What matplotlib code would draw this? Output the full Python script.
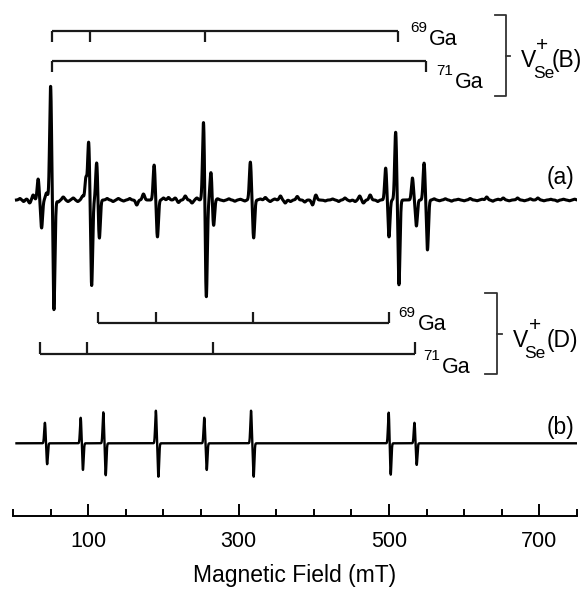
import numpy as np
import matplotlib
matplotlib.use("Agg")
import matplotlib.pyplot as plt

plt.rcParams["font.family"] = ["Liberation Sans", "DejaVu Sans"]

# ---------------- data (field in mT, amplitudes in arbitrary units) ----------------
major_ticks = [100, 300, 500, 700]
minor_ticks = [0, 50, 150, 200, 250, 350, 400, 450, 550, 600, 650, 750]
x_label = "Magnetic Field (mT)"

# (a) experimental spectrum: positive and negative lobes of each derivative line
a_up_field = [33.3, 49.9, 96.9, 100.5, 111.2, 187.6, 253.3, 263.2, 315.6, 495.6, 508.9, 531.2, 546.7]
a_up_amp = [21, 114, 22, 58, 38, 35, 79, 28, 38, 32, 68, 22, 37]
a_down_field = [37.9, 54.3, 104.5, 114.7, 192.0, 257.0, 266.7, 320.0, 500.0, 513.3, 536.5, 551.2]
a_down_amp = [28, 110, 86, 39, 37, 98, 26, 38, 37, 85, 26, 50]
# small noise features of (a)
a_noise_field = [9, 14, 18, 22, 26.7, 44.5, 60, 66.7, 73, 80, 86, 92.5, 125, 133, 140, 147,
                 155, 164.5, 173.4, 200, 206.7, 215.6, 220, 229, 238, 244.5, 272, 280, 287,
                 295, 302, 308, 329, 335.5, 342, 348, 355.6, 362, 369, 378, 388, 398.3, 402.7,
                 415, 425, 433, 441.4, 448, 455, 461, 466, 475, 485, 560, 567, 575, 583, 592,
                 600, 608, 617, 624, 630, 638, 645, 652, 660, 671, 680, 688, 698, 706, 715,
                 724, 732, 740, 747]
a_noise_amp = [1.5, -1.5, 1, -3, 5, 7, -2, 3, -1.5, 2, -1.5, 4, 1.5, -1.5, 1.5, -1,
               1.5, -5, 6, 2, 2.5, 2, -2.5, 4, -3, 2, 1.2, -0.8, 1.2,
               -1.2, 0.8, -1, 1, 2.5, -1.5, 1, 4, -3, -1.5, 3.5, -2, -5, 5,
               -1, 1, -1.5, 2, -1, -1.5, 4, -3, 5, -1.5, 1.2, -0.8, 1.2, -1.2, 0.8,
               -0.8, 1.5, -0.8, 0.8, 3, -1.2, 0.8, 2, -0.8, 2, -0.8, 1.2, 2, -0.8, 0.8,
               -1.2, 0.8, -0.8, 0.8]
a_range = [4.5, 752]

# (b) simulated spectrum
b_up_field = [42.3, 89.9, 120.0, 189.9, 254.3, 316.5, 499.6, 533.9]
b_up_amp = [20.6, 25.6, 31, 32.6, 25.6, 32.6, 31, 20.6]
b_down_field = [45.3, 92.9, 123.2, 193.3, 257.6, 320.0, 502.3, 536.9]
b_down_amp = [21, 26.7, 32, 33.4, 26.7, 33.4, 31.7, 21.7]
b_range = [4.5, 752]

# stick diagrams (line positions, mT)
B69_pos = [51.6, 102.3, 255.2, 511.6]
B71_pos = [51.6, 549.0]
D69_pos = [113.3, 190.3, 318.7, 500.0]
D71_pos = [35.6, 97.9, 265.3, 534.7]

# ---------------- layout (vertical positions in figure pixel rows) ----------------
W, H = 588, 589
fig = plt.figure(figsize=(W / 100, H / 100), dpi=100)
ax_bottom_px = 516
x0_px, x1_px = 13.1, 576.9
ax = fig.add_axes([x0_px / W, (H - ax_bottom_px) / H, (x1_px - x0_px) / W, ax_bottom_px / H])
ax.set_xlim(0, 750)
ax.set_ylim(ax_bottom_px, 0)


def lobes(grid, fields, amps, sigma):
    out = np.zeros_like(grid)
    for f, a in zip(fields, amps):
        out += a * np.exp(-0.5 * ((grid - f) / sigma) ** 2)
    return out


base_a, base_b = 200.0, 443.3
grid_a = np.arange(a_range[0], a_range[1], 0.05)
sig_a = (lobes(grid_a, a_up_field, a_up_amp, 1.3)
         - lobes(grid_a, a_down_field, a_down_amp, 1.3)
         + lobes(grid_a, a_noise_field, a_noise_amp, 1.5))
ax.plot(grid_a, base_a - sig_a, color="black", lw=2.2, solid_joinstyle="round")

grid_b = np.arange(b_range[0], b_range[1], 0.05)
sig_b = lobes(grid_b, b_up_field, b_up_amp, 0.9) - lobes(grid_b, b_down_field, b_down_amp, 0.9)
ax.plot(grid_b, base_b - sig_b, color="black", lw=1.7)

bar_kw = dict(color="#1a1a1a", lw=1.6, solid_capstyle="butt")


def stick(pos, y, tick_to):
    ax.plot([pos[0], pos[-1]], [y, y], **bar_kw)
    for p in pos:
        ax.plot([p, p], [y, tick_to], **bar_kw)


stick(B69_pos, 30.5, 42)
stick(B71_pos, 61, 72)
stick(D69_pos, 323.3, 312)
stick(D71_pos, 354, 342)

# brackets
px2mt = lambda px: (px - x0_px) / (x1_px - x0_px) * 750
br_kw = dict(color="#333333", lw=1.3)


def bracket(xpx, ytop, ybot, stub_px, mid_px):
    xb = px2mt(xpx)
    xs = px2mt(xpx - stub_px)
    ax.plot([xs, xb, xb, xs], [ytop, ytop, ybot, ybot], **br_kw)
    ym = (ytop + ybot) / 2
    ax.plot([xb, px2mt(xpx + mid_px)], [ym, ym], **br_kw)


bracket(506, 15, 96, 11, 4)
bracket(496.7, 293.3, 374.3, 11.7, 5)


def txt(xpx, ybase, s, size):
    ax.text(px2mt(xpx), ybase, s, fontsize=size, ha="left", va="baseline", clip_on=False)


def isotope(xpx_num, ybase_num, num, xpx_ga, ybase_ga):
    txt(xpx_num, ybase_num, num, 11)
    txt(xpx_ga, ybase_ga, "Ga", 15.5)


isotope(410, 32, "69", 428.5, 45)
isotope(436.7, 75, "71", 455, 88)
isotope(398.3, 317, "69", 417.5, 330)
isotope(423.3, 360, "71", 441.5, 373)


def vse(xv, ybase, xse, xplus, xlab, lab):
    txt(xv, ybase, "V", 16.5)
    txt(xse, ybase + 10.5, "Se", 12.5)
    txt(xplus, ybase - 16, "+", 15)
    txt(xlab, ybase, lab, 16.5)


vse(521, 67, 533, 536, 552, "(B)")
vse(512.5, 347, 524, 529.5, 547, "(D)")

ax.text(px2mt(574), 184, "(a)", fontsize=16.5, ha="right", va="baseline")
ax.text(px2mt(574), 434, "(b)", fontsize=16.5, ha="right", va="baseline")

# axis styling
for s in ["left", "right", "top"]:
    ax.spines[s].set_visible(False)
ax.spines["bottom"].set_linewidth(1.4)
ax.set_yticks([])
ax.set_xticks(major_ticks)
ax.set_xticks(minor_ticks, minor=True)
ax.tick_params(axis="x", which="major", direction="in", length=8.5, width=1.4,
               labelsize=15.5, pad=11)
ax.tick_params(axis="x", which="minor", direction="in", length=5, width=1.4)
ax.set_xlabel(x_label, fontsize=16.5, labelpad=8.5)

fig.savefig("out.png", dpi=100)
